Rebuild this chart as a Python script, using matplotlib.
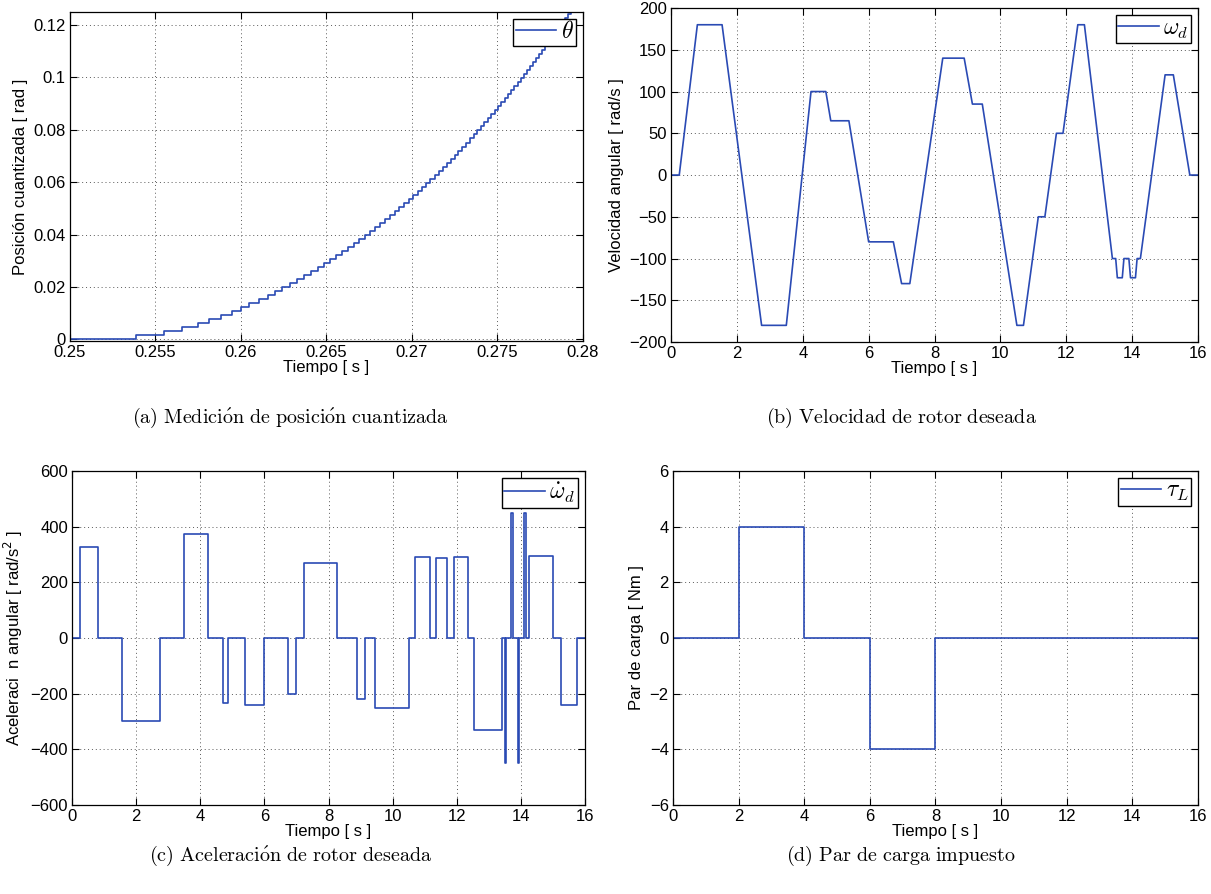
import numpy as np
import matplotlib.pyplot as plt
from matplotlib.ticker import FuncFormatter

plt.rcParams['font.family'] = ['Liberation Sans', 'DejaVu Sans']
plt.rcParams['mathtext.fontset'] = 'cm'
plt.rcParams['axes.unicode_minus'] = True

# (a) quantized position: start time of each quantization level (s)
theta_step = 0.001534  # encoder resolution (rad)
theta_t = [0.25, 0.25384, 0.25552, 0.25655, 0.25746, 0.25814, 0.25884, 0.25946, 0.26000,
           0.26047, 0.26105, 0.26159, 0.26198, 0.26242, 0.26287, 0.26329, 0.26370, 0.26410,
           0.26449, 0.26486, 0.26523, 0.26558, 0.26593, 0.26627, 0.26660, 0.26692, 0.26723,
           0.26754, 0.26784, 0.26814, 0.26843, 0.26872, 0.26900, 0.26927, 0.26955, 0.26981,
           0.27007, 0.27033, 0.27059, 0.27084, 0.27108, 0.27133, 0.27157, 0.27181, 0.27204,
           0.27227, 0.27250, 0.27272, 0.27294, 0.27316, 0.27338, 0.27360, 0.27381, 0.27402,
           0.27422, 0.27443, 0.27463, 0.27483, 0.27503, 0.27523, 0.27542, 0.27562, 0.27581,
           0.27599, 0.27618, 0.27637, 0.27655, 0.27673, 0.27691, 0.27709, 0.27727, 0.27744,
           0.27762, 0.27779, 0.27796, 0.27813, 0.27830, 0.27846, 0.27863, 0.27879, 0.27896,
           0.27912, 0.27928, 0.27944, 0.27960]

# (b) desired rotor speed, breakpoints (s, rad/s)
vel_t = [0, 0.25, 0.8, 1.55, 2.75, 3.5, 4.25, 4.7, 4.85, 5.4, 6.0, 6.75, 7.0, 7.25, 8.25,
         8.9, 9.15, 9.45, 10.5, 10.7, 11.15, 11.35, 11.7, 11.9, 12.35, 12.55, 13.4, 13.5,
         13.55, 13.7, 13.75, 13.9, 13.95, 14.1, 14.15, 14.25, 15.0, 15.25, 15.75, 16]
vel_v = [0, 0, 180, 180, -180, -180, 100, 100, 65, 65, -80, -80, -130, -130, 140,
         140, 85, 85, -180, -180, -50, -50, 50, 50, 180, 180, -100, -100,
         -123, -123, -100, -100, -123, -123, -100, -100, 120, 120, 0, 0]

# (c) desired rotor acceleration, piecewise constant (s, rad/s^2)
acc_t = [0, 0.25, 0.8, 1.55, 2.75, 3.5, 4.25, 4.7, 4.85, 5.4, 6.0, 6.75, 7.0, 7.25, 8.25,
         8.9, 9.15, 9.45, 10.5, 10.7, 11.15, 11.35, 11.7, 11.9, 12.35, 12.55, 13.4, 13.5,
         13.55, 13.7, 13.75, 13.9, 13.95, 14.1, 14.15, 14.25, 15.0, 15.25, 15.75, 16]
acc_v = [0, 327, 0, -300, 0, 373, 0, -233, 0, -242, 0, -200, 0, 270, 0,
         -220, 0, -252, 0, 290, 0, 287, 0, 290, 0, -330, 0, -450,
         0, 450, 0, -450, 0, 450, 0, 293, 0, -240, 0, 0]

# (d) load torque (s, Nm)
tau_t = [0, 2, 4, 6, 8, 16]
tau_v = [0, 4, 0, -4, 0, 0]

blue = '#2a4ab4'
fig = plt.figure(figsize=(12.11, 8.94), dpi=100)

ax_a = fig.add_axes([0.0578, 0.6186, 0.4236, 0.368])
ax_b = fig.add_axes([0.5541, 0.6174, 0.4352, 0.3736])
ax_c = fig.add_axes([0.0595, 0.0996, 0.4236, 0.3736])
ax_d = fig.add_axes([0.5557, 0.0996, 0.4335, 0.3736])

theta_v = np.arange(len(theta_t)) * theta_step
ax_a.plot(theta_t, theta_v, color=blue, lw=1.2, drawstyle='steps-post', label=r'$\theta$')
ax_b.plot(vel_t, vel_v, color=blue, lw=1.2, label=r'$\omega_d$')
ax_c.plot(acc_t, acc_v, color=blue, lw=1.2, drawstyle='steps-post', label=r'$\dot{\omega}_d$')
ax_d.plot(tau_t, tau_v, color=blue, lw=1.2, drawstyle='steps-post', label=r'$\tau_L$')

ax_a.set_xlim(0.25, 0.28)
ax_a.set_ylim(-0.0006, 0.125)
ax_a.set_xticks(np.arange(0.25, 0.2801, 0.005))
ax_a.set_yticks(np.arange(0, 0.121, 0.02))
ax_a.xaxis.set_major_formatter(FuncFormatter(lambda v, p: '%g' % round(v, 4)))
ax_a.yaxis.set_major_formatter(FuncFormatter(lambda v, p: '%g' % round(v, 4)))
ax_a.set_ylabel('Posición cuantizada [ rad ]')

ax_b.set_xlim(0, 16)
ax_b.set_ylim(-200, 200)
ax_b.set_xticks(np.arange(0, 17, 2))
ax_b.set_yticks(np.arange(-200, 201, 50))
ax_b.set_ylabel('Velocidad angular [ rad/s ]')

ax_c.set_xlim(0, 16)
ax_c.set_ylim(-600, 600)
ax_c.set_xticks(np.arange(0, 17, 2))
ax_c.set_yticks(np.arange(-600, 601, 200))
ax_c.set_ylabel('Aceleraci  n angular [ rad/s$^2$ ]', math_fontfamily='dejavusans')

ax_d.set_xlim(0, 16)
ax_d.set_ylim(-6, 6)
ax_d.set_xticks(np.arange(0, 17, 2))
ax_d.set_yticks(np.arange(-6, 7, 2))
ax_d.set_ylabel('Par de carga [ Nm ]')

for ax in [ax_a, ax_b, ax_c, ax_d]:
    ax.set_xlabel('Tiempo [ s ]', fontsize=12, labelpad=0)
    ax.yaxis.label.set_size(12)
    ax.grid(True, linestyle=(0, (1, 3)), color='0.35', lw=0.7)
    ax.tick_params(direction='in', top=True, right=True, length=5, labelsize=12, pad=3)
    for s in ax.spines.values():
        s.set_linewidth(0.9)
    leg = ax.legend(loc='upper right', fontsize=17, handlelength=1.7, handletextpad=0.2,
                    borderpad=0.1, borderaxespad=0.3, fancybox=False, framealpha=1)
    leg.get_frame().set_edgecolor('black')
    leg.get_frame().set_linewidth(1.0)

captions = [r'$\mathrm{(a)\ Medici\acute{o}n\ de\ posici\acute{o}n\ cuantizada}$',
            r'$\mathrm{(b)\ Velocidad\ de\ rotor\ deseada}$',
            r'$\mathrm{(c)\ Aceleraci\acute{o}n\ de\ rotor\ deseada}$',
            r'$\mathrm{(d)\ Par\ de\ carga\ impuesto}$']
cap_x = [0.24, 0.744, 0.24, 0.744]
cap_y = [0.532, 0.532, 0.043, 0.043]
for txt, x, y in zip(captions, cap_x, cap_y):
    fig.text(x, y, txt, ha='center', va='center', fontsize=14.5)

fig.savefig('out.png', dpi=100)
